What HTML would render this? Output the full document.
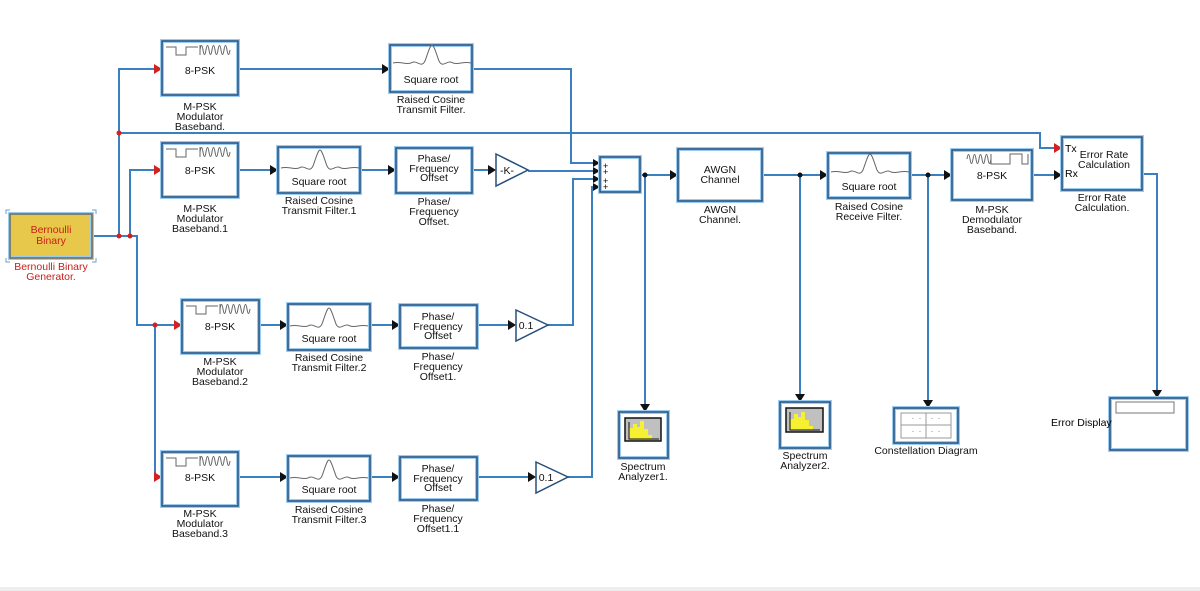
<!DOCTYPE html>
<html><head><meta charset="utf-8"><style>
body{margin:0;background:#fff}
svg{display:block;font-family:"Liberation Sans",Arial,sans-serif}
.b{fill:#fff;stroke:#9ccbf0;stroke-width:4}
.bi{fill:none;stroke:#26507a;stroke-width:1.5}
.w{fill:none;stroke:#3a7fc0;stroke-width:2}
.t{font-size:10.5px;fill:#111;text-anchor:middle}
.ar{fill:#111}
.ra{fill:#d42020}
.wave{fill:none;stroke:#666;stroke-width:1}
</style></head><body>
<svg width="1200" height="591" viewBox="0 0 1200 591">
<defs>
<g id="mod"><path class="wave" d="M4,6 H14 V14 H24 V6 H36 M38,4 V14 M38,9 c1,-6 2,-6 3,0 c1,6 2,6 3,0 c1,-6 2,-6 3,0 c1,6 2,6 3,0 c1,-6 2,-6 3,0 c1,6 2,6 3,0 c1,-6 2,-6 3,0 c1,6 2,6 3,0 c1,-6 2,-6 3,0 c1,6 2,6 3,0"/></g>
<g id="rc"><path class="wave" d="M2,22 C10,20 14,24 20,22 C26,18 30,28 34,20 C37,12 39,4 41,4 C43,4 45,12 48,20 C52,28 56,18 62,22 C68,24 72,20 80,22"/></g>
</defs>

<g class="w">
<path d="M92,236 H137 V325 H178"/>
<path d="M119,236 V69 H158"/>
<path d="M130,236 V170 H158"/>
<path d="M155,325 V477 H158"/>
<path d="M119,133 H1040 V148 H1058"/>
<path d="M238,69 H386"/>
<path d="M472,69 H571 V163 H597"/>
<path d="M238,170 H274"/><path d="M360,170 H392"/><path d="M472,170 H492"/>
<path d="M528,171 H597"/>
<path d="M259,325 H284"/><path d="M370,325 H396"/><path d="M477,325 H512"/>
<path d="M548,325 H573 V179 H597"/>
<path d="M238,477 H284"/><path d="M370,477 H396"/><path d="M477,477 H532"/>
<path d="M568,477 H592 V187 H597"/>
<path d="M640,175 H674"/><path d="M645,175 V406"/>
<path d="M762,175 H824"/><path d="M800,175 V396"/>
<path d="M910,175 H948"/><path d="M928,175 V402"/>
<path d="M1032,175 H1058"/>
<path d="M1142,174 H1157 V392"/>
</g>
<g class="ra">
<circle cx="119" cy="236" r="2.5"/><circle cx="130" cy="236" r="2.5"/><circle cx="119" cy="133" r="2.5"/><circle cx="155" cy="325" r="2.5"/>
<path d="M154,64 l8,5 l-8,5z"/><path d="M154,165 l8,5 l-8,5z"/><path d="M174,320 l8,5 l-8,5z"/><path d="M154,472 l8,5 l-8,5z"/><path d="M1054,143 l8,5 l-8,5z"/>
</g>
<g class="ar">
<path d="M382,64 l8,5 l-8,5z"/>
<path d="M270,165 l8,5 l-8,5z"/><path d="M388,165 l8,5 l-8,5z"/><path d="M488,165 l8,5 l-8,5z"/>
<path d="M280,320 l8,5 l-8,5z"/><path d="M392,320 l8,5 l-8,5z"/><path d="M508,320 l8,5 l-8,5z"/>
<path d="M280,472 l8,5 l-8,5z"/><path d="M392,472 l8,5 l-8,5z"/><path d="M528,472 l8,5 l-8,5z"/>
<path d="M593,159 l7,4 l-7,4z"/><path d="M593,167 l7,4 l-7,4z"/><path d="M593,175 l7,4 l-7,4z"/><path d="M593,183 l7,4 l-7,4z"/>
<path d="M670,170 l8,5 l-8,5z"/><path d="M820,170 l8,5 l-8,5z"/><path d="M944,170 l8,5 l-8,5z"/><path d="M1054,170 l8,5 l-8,5z"/>
<path d="M640,404 l5,8 l5,-8z"/><path d="M795,394 l5,8 l5,-8z"/><path d="M923,400 l5,8 l5,-8z"/><path d="M1152,390 l5,8 l5,-8z"/>
<circle cx="645" cy="175" r="2.5"/><circle cx="800" cy="175" r="2.5"/><circle cx="928" cy="175" r="2.5"/>
</g>

<path d="M6,214 v-4 h4 M96,214 v-4 h-4 M6,258 v4 h4 M96,258 v4 h-4" fill="none" stroke="#6aa0d0" stroke-width="1"/>
<rect x="10" y="214" width="82" height="44" fill="#e8c84a" stroke="#9ccbf0" stroke-width="4"/>
<rect x="10" y="214" width="82" height="44" fill="none" stroke="#7a6a40" stroke-width="1.5"/>
<text class="t" x="51" y="233" style="fill:#c8201a">Bernoulli</text>
<text class="t" x="51" y="244" style="fill:#c8201a">Binary</text>
<text class="t" x="51" y="270" style="fill:#c8201a">Bernoulli Binary</text>
<text class="t" x="51" y="280" style="fill:#c8201a">Generator.</text>

<g transform="translate(162,41)"><rect class="b" width="76" height="54"/><rect class="bi" width="76" height="54"/><use href="#mod"/><text class="t" x="38" y="33">8-PSK</text>
<text class="t" x="38" y="69">M-PSK</text><text class="t" x="38" y="79">Modulator</text><text class="t" x="38" y="89">Baseband.</text></g>
<g transform="translate(162,143)"><rect class="b" width="76" height="54"/><rect class="bi" width="76" height="54"/><use href="#mod"/><text class="t" x="38" y="31">8-PSK</text>
<text class="t" x="38" y="69">M-PSK</text><text class="t" x="38" y="79">Modulator</text><text class="t" x="38" y="89">Baseband.1</text></g>
<g transform="translate(182,300)"><rect class="b" width="77" height="53"/><rect class="bi" width="77" height="53"/><use href="#mod"/><text class="t" x="38" y="30">8-PSK</text>
<text class="t" x="38" y="65">M-PSK</text><text class="t" x="38" y="75">Modulator</text><text class="t" x="38" y="85">Baseband.2</text></g>
<g transform="translate(162,452)"><rect class="b" width="76" height="54"/><rect class="bi" width="76" height="54"/><use href="#mod"/><text class="t" x="38" y="29">8-PSK</text>
<text class="t" x="38" y="65">M-PSK</text><text class="t" x="38" y="75">Modulator</text><text class="t" x="38" y="85">Baseband.3</text></g>

<g transform="translate(390,45)"><rect class="b" width="82" height="47"/><rect class="bi" width="82" height="47"/><use href="#rc" transform="translate(1,-4)"/><text class="t" x="41" y="38">Square root</text>
<text class="t" x="41" y="58">Raised Cosine</text><text class="t" x="41" y="68">Transmit Filter.</text></g>
<g transform="translate(278,147)"><rect class="b" width="82" height="46"/><rect class="bi" width="82" height="46"/><use href="#rc" transform="translate(1,-1)"/><text class="t" x="41" y="38">Square root</text>
<text class="t" x="41" y="57">Raised Cosine</text><text class="t" x="41" y="67">Transmit Filter.1</text></g>
<g transform="translate(288,304)"><rect class="b" width="82" height="46"/><rect class="bi" width="82" height="46"/><use href="#rc"/><text class="t" x="41" y="38">Square root</text>
<text class="t" x="41" y="57">Raised Cosine</text><text class="t" x="41" y="67">Transmit Filter.2</text></g>
<g transform="translate(288,456)"><rect class="b" width="82" height="45"/><rect class="bi" width="82" height="45"/><use href="#rc"/><text class="t" x="41" y="37">Square root</text>
<text class="t" x="41" y="57">Raised Cosine</text><text class="t" x="41" y="67">Transmit Filter.3</text></g>

<g transform="translate(396,148)"><rect class="b" width="76" height="45"/><rect class="bi" width="76" height="45"/><text class="t" x="38" y="14">Phase/</text><text class="t" x="38" y="24">Frequency</text><text class="t" x="38" y="33">Offset</text>
<text class="t" x="38" y="57">Phase/</text><text class="t" x="38" y="67">Frequency</text><text class="t" x="38" y="77">Offset.</text></g>
<g transform="translate(400,305)"><rect class="b" width="77" height="43"/><rect class="bi" width="77" height="43"/><text class="t" x="38" y="15">Phase/</text><text class="t" x="38" y="25">Frequency</text><text class="t" x="38" y="34">Offset</text>
<text class="t" x="38" y="55">Phase/</text><text class="t" x="38" y="65">Frequency</text><text class="t" x="38" y="75">Offset1.</text></g>
<g transform="translate(400,457)"><rect class="b" width="77" height="43"/><rect class="bi" width="77" height="43"/><text class="t" x="38" y="15">Phase/</text><text class="t" x="38" y="25">Frequency</text><text class="t" x="38" y="34">Offset</text>
<text class="t" x="38" y="55">Phase/</text><text class="t" x="38" y="65">Frequency</text><text class="t" x="38" y="75">Offset1.1</text></g>

<g fill="#fff" stroke="#26507a" stroke-width="1.5">
<path d="M496,154 L528,170 L496,186z"/><path d="M516,310 L548,325 L516,341z"/><path d="M536,462 L568,477 L536,493z"/>
</g>
<text class="t" x="507" y="174">-K-</text><text class="t" x="526" y="329">0.1</text><text class="t" x="546" y="481">0.1</text>

<rect class="b" x="600" y="157" width="40" height="35"/><rect class="bi" x="600" y="157" width="40" height="35"/>
<text x="603" y="169" font-size="9">+</text><text x="603" y="175" font-size="9">+</text><text x="603" y="184" font-size="9">+</text><text x="603" y="190" font-size="9">+</text>

<rect class="b" x="678" y="149" width="84" height="52"/><rect class="bi" x="678" y="149" width="84" height="52"/>
<text class="t" x="720" y="173">AWGN</text><text class="t" x="720" y="183">Channel</text>
<text class="t" x="720" y="213">AWGN</text><text class="t" x="720" y="223">Channel.</text>

<g transform="translate(828,153)"><rect class="b" width="82" height="45"/><rect class="bi" width="82" height="45"/><use href="#rc" transform="translate(1,-3)"/><text class="t" x="41" y="37">Square root</text>
<text class="t" x="41" y="57">Raised Cosine</text><text class="t" x="41" y="67">Receive Filter.</text></g>

<g transform="translate(952,150)"><rect class="b" width="80" height="50"/><rect class="bi" width="80" height="50"/>
<path class="wave" d="M15,9 c1,-6 2,-6 3,0 c1,6 2,6 3,0 c1,-6 2,-6 3,0 c1,6 2,6 3,0 c1,-6 2,-6 3,0 c1,6 2,6 3,0 c1,-6 2,-6 3,0 c1,6 2,6 3,0 M39,4 V14 H58 V4 H70 V14 H76 V4"/>
<text class="t" x="40" y="29">8-PSK</text>
<text class="t" x="40" y="63">M-PSK</text><text class="t" x="40" y="73">Demodulator</text><text class="t" x="40" y="83">Baseband.</text></g>

<g transform="translate(1062,137)"><rect class="b" width="80" height="53"/><rect class="bi" width="80" height="53"/>
<text x="3" y="15" font-size="10.5">Tx</text><text x="3" y="40" font-size="10.5">Rx</text>
<text class="t" x="42" y="21">Error Rate</text><text class="t" x="42" y="31">Calculation</text>
<text class="t" x="40" y="64">Error Rate</text><text class="t" x="40" y="74">Calculation.</text></g>

<g transform="translate(619,412)"><rect class="b" width="49" height="46"/><rect class="bi" width="49" height="46"/>
<rect x="6" y="6" width="36" height="23" fill="#c0c0c0" stroke="#111" stroke-width="1.5"/>
<path d="M10,27 V16 h4 v-4 h4 v3 h3 v-6 h4 v8 h4 v6 h4 V27z" fill="#f5f030"/><path d="M10,10 V27 H40" fill="none" stroke="#111"/>
<text class="t" x="24" y="58">Spectrum</text><text class="t" x="24" y="68">Analyzer1.</text></g>
<g transform="translate(780,402)"><rect class="b" width="50" height="46"/><rect class="bi" width="50" height="46"/>
<rect x="6" y="6" width="37" height="24" fill="#c0c0c0" stroke="#111" stroke-width="1.5"/>
<path d="M10,28 V17 h4 v-5 h4 v3 h3 v-5 h4 v8 h4 v6 h4 V28z" fill="#f5f030"/><path d="M10,10 V28 H40" fill="none" stroke="#111"/>
<text class="t" x="25" y="57">Spectrum</text><text class="t" x="25" y="67">Analyzer2.</text></g>
<g transform="translate(894,408)"><rect class="b" width="64" height="35"/><rect class="bi" width="64" height="35"/>
<rect x="7" y="5" width="50" height="25" fill="#fff" stroke="#999"/><path d="M7,17 H57 M32,5 V30" stroke="#999"/>
<path d="M19,10 v1 M26,10 v1 M38,10 v1 M45,10 v1 M19,23 v1 M26,23 v1 M38,23 v1 M45,23 v1" stroke="#999"/>
<text class="t" x="32" y="46">Constellation Diagram</text></g>
<g transform="translate(1110,398)"><rect class="b" width="77" height="52"/><rect class="bi" width="77" height="52"/>
<rect x="6" y="4" width="58" height="11" fill="#fff" stroke="#777"/></g>
<text x="1051" y="426" font-size="10.5">Error Display</text>
<rect x="0" y="587" width="1200" height="4" fill="#eeeeee"/>
</svg>
</body></html>
